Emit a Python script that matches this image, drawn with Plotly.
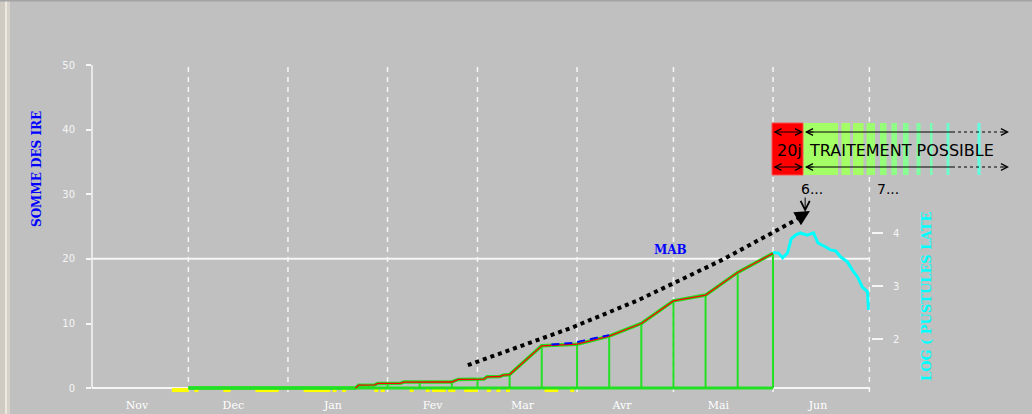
import plotly.graph_objects as go

# ---------------- data ----------------
months = ["Nov", "Dec", "Jan", "Fev", "Mar", "Avr", "Mai", "Jun"]
month_mid = ["2002-11-15", "2002-12-15", "2003-01-15", "2003-02-15",
             "2003-03-15", "2003-04-15", "2003-05-15", "2003-06-15"]
month_starts = ["2002-12-01", "2003-01-01", "2003-02-01", "2003-03-01",
                "2003-04-01", "2003-05-01", "2003-06-01", "2003-07-01"]

# cumulative sum of IRE (left axis)
ire_dates = ["2002-12-01", "2003-01-22", "2003-01-23", "2003-01-28", "2003-01-29",
             "2003-02-05", "2003-02-06", "2003-02-21", "2003-02-22", "2003-02-23",
             "2003-03-03", "2003-03-04", "2003-03-08", "2003-03-09", "2003-03-11",
             "2003-03-21", "2003-04-01", "2003-04-11", "2003-04-21", "2003-05-01",
             "2003-05-11", "2003-05-21", "2003-06-01"]
ire_sum = [0, 0, 0.45, 0.5, 0.72,
           0.75, 0.93, 0.95, 1.15, 1.35,
           1.4, 1.75, 1.8, 2.0, 2.1,
           6.55, 6.8, 8.05, 10.0, 13.5,
           14.4, 17.9, 20.85]

# dekad drop lines
dekad_dates = ["2003-02-01", "2003-02-11", "2003-02-21", "2003-03-01", "2003-03-11",
               "2003-03-21", "2003-04-01", "2003-04-11", "2003-04-21", "2003-05-01",
               "2003-05-11", "2003-05-21", "2003-06-01"]
dekad_sum = [0.72, 0.93, 0.95, 1.38, 2.1, 6.55, 6.8, 8.05, 10.0, 13.5, 14.4, 17.9, 20.85]

# short blue dashed series
blue_dates = ["2003-03-24", "2003-03-31", "2003-04-03", "2003-04-07", "2003-04-11"]
blue_vals = [6.76, 7.0, 7.35, 7.8, 8.2]

# yellow day markers
rain_days = ["2002-11-26", "2002-11-27", "2002-11-28", "2002-11-29", "2002-11-30",
             "2002-12-03", "2002-12-12", "2002-12-13",
             "2002-12-22", "2002-12-23", "2002-12-24", "2002-12-25", "2002-12-26",
             "2002-12-27", "2002-12-28",
             "2003-01-06", "2003-01-07", "2003-01-08", "2003-01-09", "2003-01-10",
             "2003-01-11", "2003-01-12", "2003-01-13", "2003-01-15", "2003-01-18",
             "2003-01-28", "2003-01-30", "2003-02-08", "2003-02-13",
             "2003-02-15", "2003-02-16", "2003-02-17", "2003-02-18",
             "2003-02-20", "2003-02-21",
             "2003-02-25", "2003-02-26", "2003-02-27", "2003-02-28",
             "2003-03-04", "2003-03-07", "2003-03-10",
             "2003-03-22", "2003-03-23", "2003-03-24", "2003-03-25", "2003-03-30"]

# log(pustules latentes) (right axis)
pustule_dates = ["2003-06-01", "2003-06-02 16:00", "2003-06-04", "2003-06-05 12:00",
                 "2003-06-06 16:00", "2003-06-08", "2003-06-09 12:00", "2003-06-11 16:00",
                 "2003-06-13 14:00", "2003-06-15", "2003-06-17 07:00", "2003-06-18 22:00",
                 "2003-06-20 12:00", "2003-06-22", "2003-06-24 05:00", "2003-06-25 17:00",
                 "2003-06-27 07:00", "2003-06-28 19:00", "2003-06-30 10:00", "2003-06-30 17:00"]
log_pustules = [3.64, 3.63, 3.54, 3.63, 3.90, 3.97, 4.01, 3.97, 4.01, 3.82,
                3.75, 3.69, 3.67, 3.56, 3.46, 3.31, 3.18, 2.99, 2.90, 2.56]

# dotted trend arrow
trend_dates = ["2003-02-26", "2003-03-20", "2003-03-30", "2003-04-20",
               "2003-05-01", "2003-05-16", "2003-06-01", "2003-06-08"]
trend_vals = [3.56, 7.43, 9.29, 13.6, 16.25, 19.8, 24.1, 26.0]

mab_threshold = 20
left_ticks = [0, 10, 20, 30, 40, 50]
right_ticks = [2, 3, 4]

# ---------------- styling / geometry ----------------
BG = "#c0c0c0"
GREEN = "#22e022"
WHITE = "#f6f6f6"
L, R, T, B = 92, 871, 65, 392


def px(x):
    return (x - L) / (R - L)


def py(y):
    return (B - y) / (B - T)


fig = go.Figure()

# yellow days
fig.add_trace(go.Scatter(
    x=[d + " 12:00" for d in rain_days], y=[-0.3] * len(rain_days),
    mode="markers", marker=dict(symbol="square", size=4, color="#ffff00", line_width=0),
    cliponaxis=False, hoverinfo="skip"))

# green baseline + dekad drop lines
fig.add_trace(go.Scatter(x=[ire_dates[0], ire_dates[-1]], y=[0, 0], mode="lines",
                         line=dict(color=GREEN, width=3), hoverinfo="skip"))
drop_x, drop_y = [], []
for d, v in zip(dekad_dates, dekad_sum):
    drop_x += [d, d, None]
    drop_y += [0, v, None]
fig.add_trace(go.Scatter(x=drop_x, y=drop_y, mode="lines",
                         line=dict(color=GREEN, width=2), hoverinfo="skip"))

# cumulative IRE curve: green body + red core
fig.add_trace(go.Scatter(x=ire_dates, y=ire_sum, mode="lines",
                         line=dict(color=GREEN, width=3.5), hoverinfo="skip"))
first = next(i for i, v in enumerate(ire_sum) if v > 0) - 1
fig.add_trace(go.Scatter(x=ire_dates[first:], y=ire_sum[first:], mode="lines",
                         line=dict(color="#ff0000", width=1.3), hoverinfo="skip"))

# blue dashed
fig.add_trace(go.Scatter(x=blue_dates, y=blue_vals, mode="lines",
                         line=dict(color="#0000ff", width=2, dash="8px,5px"), hoverinfo="skip"))

# cyan pustules on right axis
fig.add_trace(go.Scatter(x=pustule_dates, y=log_pustules, mode="lines", yaxis="y2",
                         line=dict(color="#00ffff", width=3), hoverinfo="skip"))

# dotted trend
fig.add_trace(go.Scatter(x=trend_dates, y=trend_vals, mode="lines",
                         line=dict(color="#000000", width=4, dash="4px,4px"),
                         hoverinfo="skip", cliponaxis=False))

shapes = []
# month grid lines
for d in month_starts:
    shapes.append(dict(type="line", xref="x", yref="paper", x0=d, x1=d, y0=0, y1=1,
                       line=dict(color=WHITE, width=1.5, dash="5px,5px"), layer="below"))
# threshold and baseline
shapes.append(dict(type="line", xref="x", yref="y", x0="2002-11-01", x1="2003-07-01",
                   y0=mab_threshold, y1=mab_threshold, line=dict(color=WHITE, width=2), layer="below"))
shapes.append(dict(type="line", xref="x", yref="y", x0="2002-11-01", x1="2003-07-01",
                   y0=0, y1=0, line=dict(color=WHITE, width=2), layer="below"))
# left axis line
shapes.append(dict(type="line", xref="paper", yref="y", x0=0, x1=0, y0=0, y1=50,
                   line=dict(color=WHITE, width=1.5), layer="below"))
# window border decorations
shapes.append(dict(type="rect", xref="paper", yref="paper", x0=px(0), x1=px(5), y0=py(414), y1=py(0),
                   fillcolor="#cfcbc3", line_width=0, layer="below"))
shapes.append(dict(type="rect", xref="paper", yref="paper", x0=px(5), x1=px(7), y0=py(414), y1=py(0),
                   fillcolor="#ece8e0", line_width=0, layer="below"))
shapes.append(dict(type="rect", xref="paper", yref="paper", x0=px(7), x1=px(10), y0=py(414), y1=py(0),
                   fillcolor="#d6d2ca", line_width=0, layer="below"))
shapes.append(dict(type="rect", xref="paper", yref="paper", x0=px(0), x1=px(1032), y0=py(1.5), y1=py(0),
                   fillcolor="#a4a4a4", line_width=0, layer="below"))

# treatment box
BOX_T, BOX_B = 123, 175
stripes = [(803, 838), (841.5, 850), (853, 863.5), (866.5, 875), (880, 886.5), (891.5, 897),
           (903, 908.5), (916.5, 920.5), (930, 932.5), (946.5, 949.5), (977.5, 980.5)]
stripe_cols = ["#a4ff66", "#a4ff66", "#a4ff66", "#9cff70", "#96ff7a", "#90ff86",
               "#88ff92", "#80ffa0", "#78ffb4", "#6cffcc", "#60ffe0"]
for (a, b), c in zip(stripes, stripe_cols):
    shapes.append(dict(type="rect", xref="paper", yref="paper", x0=px(a), x1=px(b),
                       y0=py(BOX_B), y1=py(BOX_T), fillcolor=c, line_width=0))
shapes.append(dict(type="rect", xref="paper", yref="paper", x0=px(772), x1=px(803),
                   y0=py(BOX_B), y1=py(BOX_T), fillcolor="#ff0000", line=dict(color="#ff5050", width=1)))
for yy in (132, 167):
    shapes.append(dict(type="line", xref="paper", yref="paper", x0=px(806), x1=px(952),
                       y0=py(yy), y1=py(yy), line=dict(color="#000000", width=1.2)))
    shapes.append(dict(type="line", xref="paper", yref="paper", x0=px(952), x1=px(1004),
                       y0=py(yy), y1=py(yy), line=dict(color="#000000", width=1.2, dash="3px,3px")))

ann = []
for yy in (132, 167):
    ann.append(dict(xref="paper", yref="paper", x=px(803), y=py(yy), ax=-31, ay=0, text="",
                    showarrow=True, arrowside="end+start", arrowhead=5, startarrowhead=5,
                    arrowsize=1.3, startarrowsize=1.3, arrowwidth=1, arrowcolor="#000000"))
    ann.append(dict(xref="paper", yref="paper", x=px(805), y=py(yy), ax=10, ay=0, text="",
                    showarrow=True, arrowhead=5, arrowsize=1.3, arrowwidth=1, arrowcolor="#000000"))
    ann.append(dict(xref="paper", yref="paper", x=px(1009), y=py(yy), ax=-8, ay=0, text="",
                    showarrow=True, arrowhead=5, arrowsize=1.3, arrowwidth=1, arrowcolor="#000000"))

box_font = dict(family="DejaVu Sans", size=16, color="#000000")
ann.append(dict(xref="paper", yref="paper", x=px(789), y=py(150), text="20j", showarrow=False,
                font=box_font, xanchor="center", yanchor="middle"))
ann.append(dict(xref="paper", yref="paper", x=px(807), y=py(150), text="TRAITEMENT POSSIBLE",
                showarrow=False, font=box_font, xanchor="left", yanchor="middle"))
ann.append(dict(xref="paper", yref="paper", x=px(812), y=py(189), text="6...", showarrow=False,
                xanchor="center", yanchor="middle",
                font=dict(family="DejaVu Sans", size=14, color="#000000")))
ann.append(dict(xref="paper", yref="paper", x=px(888), y=py(189), text="7...", showarrow=False,
                xanchor="center", yanchor="middle",
                font=dict(family="DejaVu Sans", size=14, color="#000000")))
# thin down arrow
ann.append(dict(xref="x", yref="y", x="2003-06-11", y=27.25, ax=0, ay=-16, text="",
                showarrow=True, arrowhead=5, arrowsize=1.8, arrowwidth=1, arrowcolor="#000000"))
# trend arrow head
ann.append(dict(xref="x", yref="y", x="2003-06-12 12:00", y=27.4, ax=-15, ay=9, text="",
                showarrow=True, arrowhead=2, arrowsize=1, arrowwidth=3, arrowcolor="#000000"))
# axis titles
ann.append(dict(xref="paper", yref="paper", x=px(37), y=py(169), text="SOMME DES IRE",
                textangle=-90, showarrow=False, xanchor="center", yanchor="middle",
                font=dict(family="DejaVu Serif", size=12, color="#0000ff", weight="bold")))
ann.append(dict(xref="paper", yref="paper", x=px(926), y=py(296), text="LOG ( PUSTULES LATE",
                textangle=-90, showarrow=False, xanchor="center", yanchor="middle",
                font=dict(family="DejaVu Serif", size=13, color="#00ffff", weight="bold")))
# MAB
ann.append(dict(xref="x", yref="y", x="2003-04-30", y=mab_threshold, text="MAB", showarrow=False,
                yanchor="bottom", yshift=0,
                font=dict(family="DejaVu Serif", size=12, color="#0000ff", weight="bold")))

tick_font = dict(family="DejaVu Sans", size=10, color=WHITE)
fig.update_layout(
    width=1032, height=414, autosize=False,
    margin=dict(l=L, r=1032 - R, t=T, b=414 - B, pad=0, autoexpand=False),
    paper_bgcolor=BG, plot_bgcolor=BG,
    showlegend=False,
    xaxis=dict(type="date", range=["2002-11-01", "2003-07-01 12:00"],
               tickmode="array", tickvals=month_mid, ticktext=months, ticks="",
               showgrid=False, zeroline=False, showline=False, automargin=False,
               tickfont=dict(family="DejaVu Serif", size=11, color="#ffffff"),
               ticklabelstandoff=5),
    yaxis=dict(range=[-0.6, 50], tickmode="array", tickvals=left_ticks, ticks="outside",
               ticklen=5, tickwidth=1.5, tickcolor=WHITE, showgrid=False, zeroline=False,
               showline=False, automargin=False, tickfont=tick_font, ticklabelstandoff=9),
    yaxis2=dict(overlaying="y", side="right", range=[1.009, 7.179], tickmode="array",
                tickvals=right_ticks, ticks="outside", ticklen=11, tickwidth=1.5, tickcolor=WHITE,
                showgrid=False, zeroline=False, showline=False, automargin=False,
                tickfont=tick_font, ticklabelstandoff=8),
    shapes=shapes, annotations=ann,
)

fig.write_html("out.html", config={"displayModeBar": False},
               post_script="document.body.style.margin='0';document.body.style.padding='0';")
